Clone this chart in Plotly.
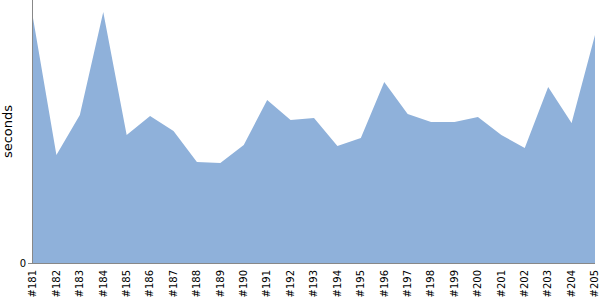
import plotly.graph_objects as go

builds = ["#%d" % n for n in range(181, 206)]
seconds = [245, 108, 148, 251, 128, 147, 132, 101, 100, 118, 163, 143, 145,
           117, 125, 181, 149, 141, 141, 146, 128, 115, 176, 140, 228]

fig = go.Figure(go.Scatter(
    x=list(range(len(builds))), y=seconds, mode="lines",
    line=dict(width=0, color="#8fb1da"), fill="tozeroy",
    fillcolor="#8fb1da", hoverinfo="skip"))

fig.update_layout(
    width=600, height=300, margin=dict(l=33, r=5, t=0, b=37),
    paper_bgcolor="white", plot_bgcolor="white", showlegend=False,
    font=dict(family="DejaVu Sans", color="black", size=10),
)
fig.update_xaxes(
    range=[0, len(builds) - 1], tickmode="array",
    tickvals=list(range(len(builds))), ticktext=builds, tickangle=-90,
    showgrid=False, zeroline=False, showline=True, linecolor="#888888",
    linewidth=1, ticks="", tickfont=dict(size=10), fixedrange=True,
    ticklabeloverflow="allow", ticklabelstandoff=2)
fig.update_yaxes(
    range=[0, 263], tickmode="array", tickvals=[0], ticktext=["0"],
    showgrid=False, zeroline=False, showline=True, linecolor="#888888",
    linewidth=1, ticks="outside", ticklen=4, tickcolor="#888888",
    title=dict(text="seconds", font=dict(size=13), standoff=8),
    tickfont=dict(size=10), fixedrange=True)

fig.write_html("out.html", config={"displayModeBar": False})
